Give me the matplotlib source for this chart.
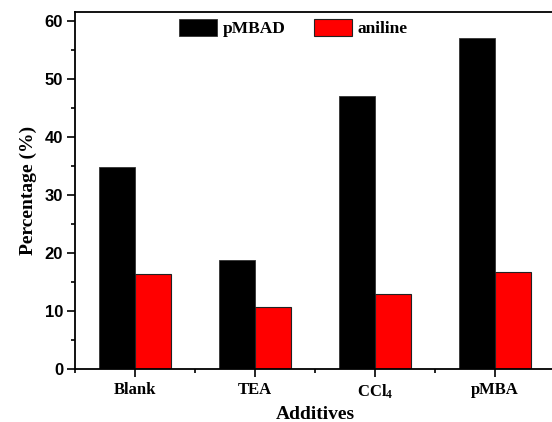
import numpy as np
import matplotlib
matplotlib.use('Agg')
import matplotlib.pyplot as plt
from matplotlib.ticker import MultipleLocator

# Product distribution for each additive
additives = ['Blank', 'TEA', 'CCl$_{4}$', 'pMBA']
pmbad = [34.8, 18.8, 47.1, 57.1]
aniline = [16.4, 10.7, 12.9, 16.7]

plt.rcParams['mathtext.fontset'] = 'custom'
plt.rcParams['mathtext.rm'] = 'Liberation Serif:bold'
plt.rcParams['mathtext.it'] = 'Liberation Serif:bold'
plt.rcParams['mathtext.bf'] = 'Liberation Serif:bold'

fig = plt.figure(figsize=(5.52, 4.22), dpi=100)
ax = fig.add_axes([0.1359, 0.1256, 0.8696, 0.846])

x = np.arange(len(additives))
w = 0.3
ax.bar(x - w / 2, pmbad, w, color='black', edgecolor='#333333', linewidth=0.6, label='pMBAD')
ax.bar(x + w / 2, aniline, w, color='#ff0000', edgecolor='#222222', linewidth=0.8, label='aniline')

ax.set_xlim(-0.5, 3.5)
ax.set_ylim(0, 61.5)
ax.set_xticks(x)
ax.set_xticklabels(additives, fontfamily='Liberation Serif', fontweight='bold', fontsize=12)
ax.xaxis.set_minor_locator(MultipleLocator(0.5))
ax.yaxis.set_major_locator(MultipleLocator(10))
ax.yaxis.set_minor_locator(MultipleLocator(5))
for lab in ax.get_yticklabels():
    lab.set_fontfamily('Liberation Sans')
    lab.set_fontweight('bold')
    lab.set_fontsize(12)

ax.tick_params(axis='both', which='major', direction='out', length=5.5, width=1.2)
ax.tick_params(axis='both', which='minor', direction='out', length=3, width=1.2)
ax.tick_params(axis='x', which='major', pad=4)
ax.tick_params(axis='y', which='major', pad=3)
ax.tick_params(top=False, right=False, which='both')
for s in ax.spines.values():
    s.set_linewidth(1.3)

ax.set_xlabel('Additives', fontfamily='Liberation Serif', fontweight='bold', fontsize=14, labelpad=4)
ax.set_ylabel('Percentage (%)', fontfamily='Liberation Serif', fontweight='bold', fontsize=14, labelpad=6)

ax.legend(loc='center', bbox_to_anchor=(0.455, 0.955), ncol=2, frameon=False,
          prop={'family': 'Liberation Serif', 'weight': 'bold', 'size': 12.5},
          handlelength=2.2, handleheight=1.15, handletextpad=0.35, columnspacing=1.6)

fig.savefig('out.png', dpi=100)
